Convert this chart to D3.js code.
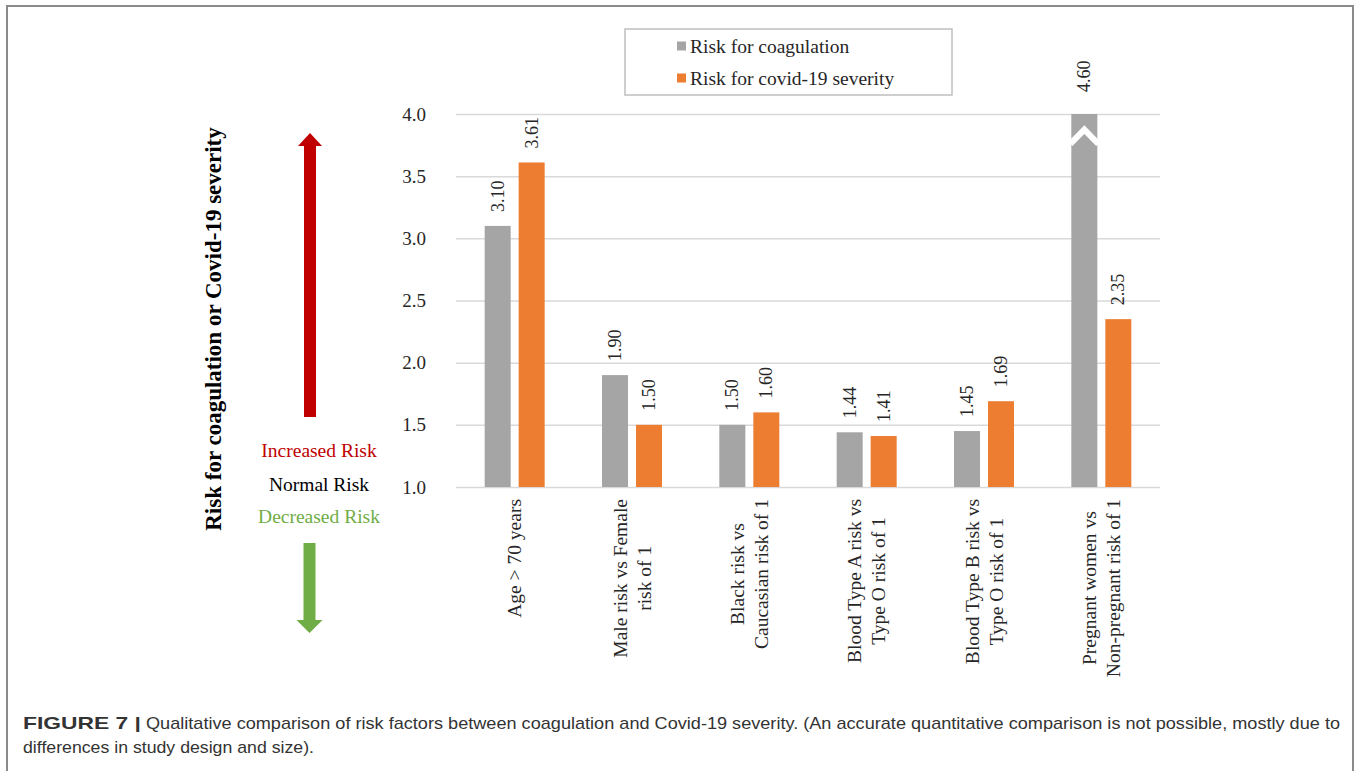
<!DOCTYPE html>
<html>
<head>
<meta charset="utf-8">
<script src="https://cdn.jsdelivr.net/npm/d3@7"></script>
<style>
  html, body { margin: 0; padding: 0; background: #fff; }
  svg { display: block; }
</style>
</head>
<body>
<svg id="chart" width="1360" height="771"></svg>
<script>
// ---------- DATA ----------
const categories = [
  ["Age > 70 years"],
  ["Male risk vs Female", "risk of 1"],
  ["Black risk vs", "Caucasian risk of 1"],
  ["Blood Type A risk vs", "Type O risk of 1"],
  ["Blood Type B risk vs", "Type O risk of 1"],
  ["Pregnant women vs", "Non-pregnant risk of 1"]
];
const seriesNames = ["Risk for coagulation", "Risk for covid-19 severity"];
const coagulation = [3.10, 1.90, 1.50, 1.44, 1.45, 4.60];
const covidSeverity = [3.61, 1.50, 1.60, 1.41, 1.69, 2.35];
const yTicks = [1.0, 1.5, 2.0, 2.5, 3.0, 3.5, 4.0];
const yDomain = [1.0, 4.0];
const riskLabels = ["Increased Risk", "Normal Risk", "Decreased Risk"];
const yTitle = "Risk for coagulation or Covid-19 severity";
const captionBold = "FIGURE 7 |";
const captionLine1 = "Qualitative comparison of risk factors between coagulation and Covid-19 severity. (An accurate quantitative comparison is not possible, mostly due to";
const captionLine2 = "differences in study design and size).";

// ---------- STYLE ----------
const colors = ["#A5A5A5", "#ED7D31"];
const red = "#C00000", green = "#70AD47";
const serif = "'Liberation Serif', 'Times New Roman', serif";
const sans = "'Liberation Sans', Arial, sans-serif";
const textColor = "#262626";

const svg = d3.select("#chart");

// Outer frame
svg.append("path")
  .attr("d", "M7,775 V6 H1353 V775")
  .attr("fill", "none").attr("stroke", "#8a8a8a").attr("stroke-width", 2);

// ---------- SCALES ----------
const plot = { left: 456, right: 1160, top: 114, bottom: 487 };
const y = d3.scaleLinear().domain(yDomain).range([plot.bottom, plot.top]);
const x0 = d3.scaleBand().domain(d3.range(categories.length)).range([plot.left, plot.right]);
const bw = x0.bandwidth();
const x1 = d3.scaleBand().domain([0, 1]).range([bw / 2 - 30, bw / 2 + 30]).paddingInner(0.235);

// Gridlines
const grid = svg.append("g").attr("transform", `translate(${plot.left},0)`)
  .call(d3.axisLeft(y).tickValues(yTicks).tickSize(-(plot.right - plot.left)).tickFormat(""));
grid.select(".domain").remove();
grid.selectAll(".tick line").attr("stroke", "#d9d9d9").attr("stroke-width", 1.5);

// Y tick labels
const yAxis = svg.append("g").attr("transform", `translate(${plot.left},0)`)
  .call(d3.axisLeft(y).tickValues(yTicks).tickSize(0).tickPadding(30).tickFormat(d3.format(".1f")));
yAxis.select(".domain").remove();
yAxis.selectAll("text").attr("font-family", serif).attr("font-size", 19).attr("fill", textColor);

// ---------- BARS ----------
const seriesData = [coagulation, covidSeverity];
const groups = svg.append("g").selectAll("g").data(categories).join("g")
  .attr("transform", (d, i) => `translate(${x0(i)},0)`);

groups.each(function(cat, i) {
  const g = d3.select(this);
  seriesData.forEach((vals, s) => {
    const v = vals[i];
    const clipped = v > yDomain[1];
    const vv = Math.min(v, yDomain[1]);
    const bx = x1(s), w = x1.bandwidth();
    g.append("rect")
      .attr("x", bx).attr("y", y(vv))
      .attr("width", w).attr("height", y(yDomain[0]) - y(vv))
      .attr("fill", colors[s]);
    if (clipped) {
      g.append("polyline")
        .attr("points", `${bx - 1},${y(3.76)} ${bx + w / 2},${y(3.875)} ${bx + w + 1},${y(3.76)}`)
        .attr("fill", "none").attr("stroke", "#fff").attr("stroke-width", 6);
    }
    const ly = y(vv) - (clipped ? 22 : 14);
    g.append("text")
      .attr("transform", `translate(${bx + w / 2},${ly}) rotate(-90)`)
      .attr("text-anchor", "start").attr("dominant-baseline", "central")
      .attr("font-family", serif).attr("font-size", 18).attr("fill", textColor)
      .text(d3.format(".2f")(v));
  });
});

// ---------- X LABELS ----------
categories.forEach((lines, i) => {
  const cx = x0(i) + bw / 2;
  const g = svg.append("g").attr("transform", `translate(${cx},499) rotate(-90)`);
  const texts = lines.map((ln, j) => g.append("text")
    .attr("y", (j - (lines.length - 1) / 2) * 24)
    .attr("text-anchor", "middle").attr("dominant-baseline", "central")
    .attr("font-family", serif).attr("font-size", 19.5).attr("fill", textColor)
    .text(ln));
  const L = d3.max(texts, t => t.node().getComputedTextLength());
  texts.forEach(t => t.attr("x", -L / 2));
});

// ---------- LEGEND ----------
const legend = svg.append("g");
legend.append("rect").attr("x", 625).attr("y", 29).attr("width", 327).attr("height", 66)
  .attr("fill", "#fff").attr("stroke", "#bfbfbf").attr("stroke-width", 1.5);
seriesNames.forEach((n, i) => {
  const cy = 46 + i * 32;
  legend.append("rect").attr("x", 677).attr("y", cy - 4.5).attr("width", 9).attr("height", 9).attr("fill", colors[i]);
  legend.append("text").attr("x", 690).attr("y", cy)
    .attr("dominant-baseline", "central")
    .attr("font-family", serif).attr("font-size", 19.5).attr("fill", textColor).text(n);
});

// ---------- Y TITLE ----------
svg.append("text")
  .attr("transform", "translate(213,329) rotate(-90)")
  .attr("text-anchor", "middle").attr("dominant-baseline", "central")
  .attr("font-family", serif).attr("font-weight", "bold").attr("font-size", 23).attr("fill", "#000")
  .text(yTitle);

// ---------- ARROWS ----------
function arrow(cx, tipY, baseY, headY, shaftW, headW, color) {
  const p = d3.path();
  p.moveTo(cx, tipY);
  p.lineTo(cx + headW / 2, headY);
  p.lineTo(cx + shaftW / 2, headY);
  p.lineTo(cx + shaftW / 2, baseY);
  p.lineTo(cx - shaftW / 2, baseY);
  p.lineTo(cx - shaftW / 2, headY);
  p.lineTo(cx - headW / 2, headY);
  p.closePath();
  svg.append("path").attr("d", p.toString()).attr("fill", color);
}
arrow(310, 133, 417, 146, 12, 24, red);
arrow(309.5, 633, 543, 620, 12, 26, green);

// Risk labels
const riskColors = [red, "#000", green];
const riskY = [450, 484, 516];
riskLabels.forEach((t, i) => {
  svg.append("text").attr("x", 319).attr("y", riskY[i])
    .attr("text-anchor", "middle").attr("dominant-baseline", "central")
    .attr("font-family", serif).attr("font-size", 19.5).attr("fill", riskColors[i]).text(t);
});

// ---------- CAPTION ----------
svg.append("text").attr("x", 23).attr("y", 729)
  .attr("font-family", sans).attr("font-weight", "bold").attr("font-size", 17).attr("fill", "#333")
  .attr("textLength", 118).attr("lengthAdjust", "spacingAndGlyphs").text(captionBold);
svg.append("text").attr("x", 146).attr("y", 729)
  .attr("font-family", sans).attr("font-size", 17).attr("fill", "#333")
  .attr("textLength", 1194).attr("lengthAdjust", "spacingAndGlyphs").text(captionLine1);
svg.append("text").attr("x", 23).attr("y", 753)
  .attr("font-family", sans).attr("font-size", 17).attr("fill", "#333")
  .attr("textLength", 291).attr("lengthAdjust", "spacingAndGlyphs").text(captionLine2);
</script>
</body>
</html>
